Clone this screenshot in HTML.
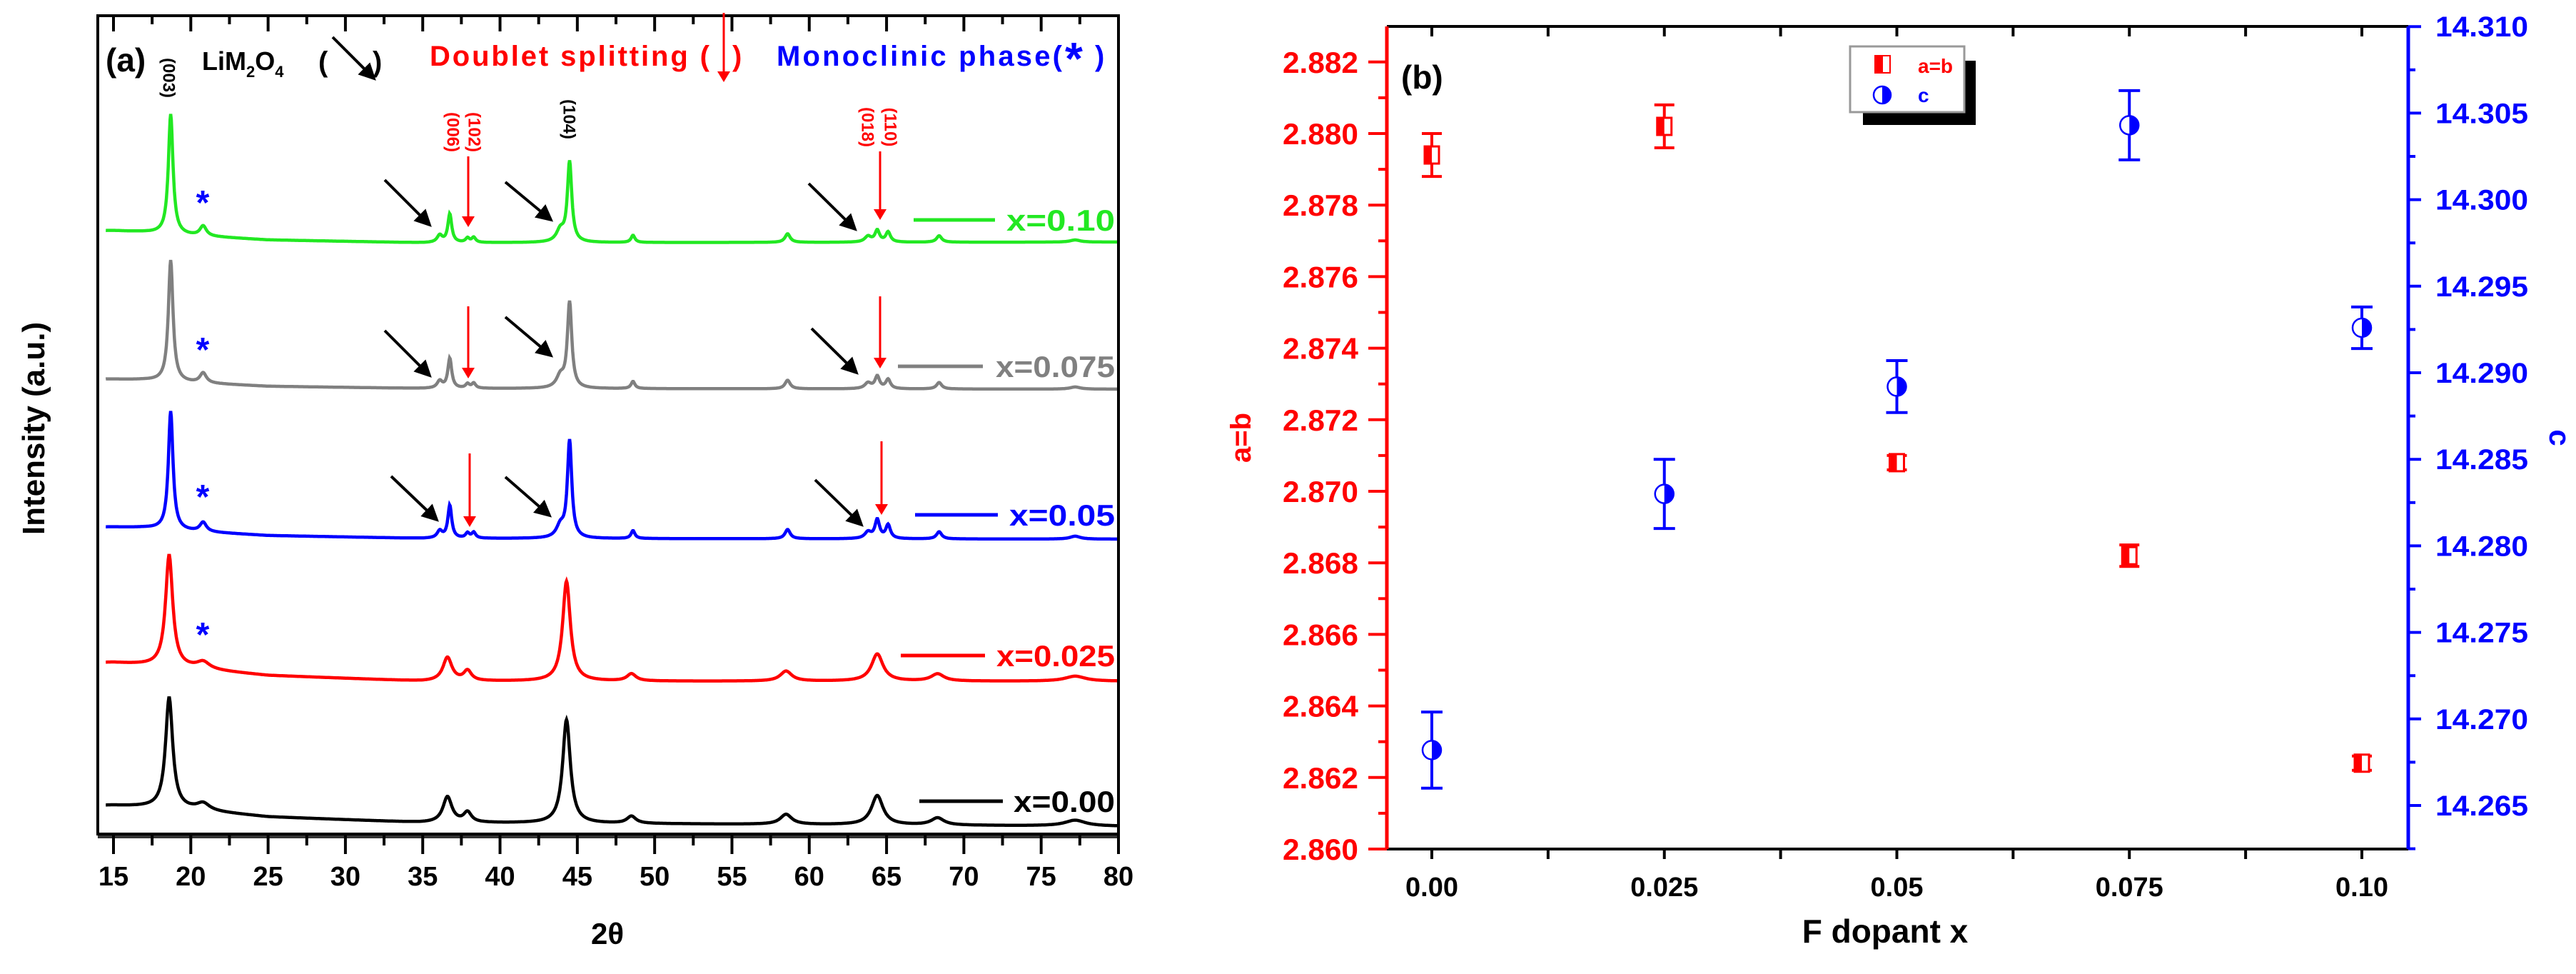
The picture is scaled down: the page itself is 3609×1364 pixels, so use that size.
<!DOCTYPE html>
<html><head><meta charset="utf-8"><style>
html,body{margin:0;padding:0;background:#fff;}
svg{display:block;font-family:"Liberation Sans",sans-serif;font-weight:bold;}
</style></head><body>
<svg id="fig" width="3609" height="1364" viewBox="0 0 3609 1364">
<defs>
<marker id="ahK" markerWidth="6" markerHeight="6" refX="5" refY="3" orient="auto" markerUnits="strokeWidth"><path d="M0,0 L6,3 L0,6 z" fill="#000"/></marker>
<marker id="ahR" markerWidth="5" markerHeight="6" refX="4" refY="3" orient="auto" markerUnits="strokeWidth"><path d="M0,0 L5,3 L0,6 z" fill="#f00"/></marker>
</defs>
<g id="panelA"></g>
<g id="panelB"></g>
</svg>
<script>
// ---------- Panel (a) data ----------
const xrdTickLabels = ["15","20","25","30","35","40","45","50","55","60","65","70","75","80"];
const seriesNames = ["x=0.10","x=0.075","x=0.05","x=0.025","x=0.00"];
const seriesColors = ["#22e822","#808080","#0000ff","#ff0000","#000000"];
const baseKnots = [15,17,20,25,35,80];
const baseG = [845,843,838,832,828,829];
const baseGr = [637,636,632,627,624,623];
const baseB = [430,429,424,418,414,413];
const baseR = [240,237,232,222,214,214];
const baseK = [40,38,34,24,16,11];
const posG = [18.7,20.8,36.1,36.75,37.9,38.3,43.9,44.5,48.6,58.6,63.8,64.4,65.1,68.4,77.2];
const hG   = [168,14,10,40,6,7,16,112,10,12,8,16,14,9,3];
const posGr= [18.7,20.8,36.1,36.75,37.9,38.3,43.9,44.5,48.6,58.6,63.8,64.4,65.1,68.4,77.2];
const hGr  = [170,14,10,42,6,7,16,120,10,12,8,17,13,9,3];
const posB = [18.7,20.8,36.1,36.75,37.9,38.3,43.9,44.5,48.6,58.6,63.8,64.4,65.1,68.4,77.2];
const hB   = [166,13,10,46,7,8,16,136,11,13,9,26,19,10,4];
const widthsSharp = [0.18,0.25,0.2,0.15,0.15,0.15,0.3,0.17,0.15,0.2,0.25,0.18,0.18,0.2,0.4];
const posR = [18.6,20.8,36.6,37.9,44.3,48.5,58.5,64.4,68.3,77.2];
const hR   = [156,10,33,14,140,10,14,38,10,7];
const posK = [18.6,20.8,36.6,37.9,44.3,48.5,58.5,64.4,68.3,77.2];
const hK   = [155,10,36,14,145,10,14,41,10,8];
const widthsBroad = [0.28,0.5,0.35,0.3,0.3,0.35,0.45,0.45,0.5,0.8];

// ---------- Panel (b) data ----------
const dopant = [0,0.025,0.05,0.075,0.10];
const abVals = [2.8794,2.8802,2.8708,2.8682,2.8624];
const abErr  = [0.0006,0.0006,0.0002,0.0003,0.0002];
const cVals  = [14.2682,14.2830,14.2892,14.3043,14.2926];
const cErr   = [0.0022,0.0020,0.0015,0.0020,0.0012];
const xTickVals = [0,0.025,0.05,0.075,0.10];
const xTickLabels = ["0.00","0.025","0.05","0.075","0.10"];
const abTickLabels = ["2.860","2.862","2.864","2.866","2.868","2.870","2.872","2.874","2.876","2.878","2.880","2.882"];
const cTickLabels = ["14.265","14.270","14.275","14.280","14.285","14.290","14.295","14.300","14.305","14.310"];

const NS="http://www.w3.org/2000/svg";
function mk(tag,attrs,parent){const e=document.createElementNS(NS,tag);for(const k in attrs)e.setAttribute(k,attrs[k]);parent.appendChild(e);return e;}
function txt(s,attrs,parent){const e=mk("text",attrs,parent);e.textContent=s;return e;}

// ===== Panel A =====
const A=document.getElementById("panelA");
const ax={L:137,R:1567,T:22,B:1168,x0:15,x1:80};
const X=t=>159+(t-15)*(1567-159)/65;
const Y=v=>1168-v;
function interp(t,kx,ky){for(let i=0;i<kx.length-1;i++){if(t<=kx[i+1]){const f=(t-kx[i])/(kx[i+1]-kx[i]);return ky[i]+f*(ky[i+1]-ky[i]);}}return ky[ky.length-1];}
function spectrum(base,pos,h,w){let d="";for(let t=14.5;t<=80.001;t+=0.04){let v=interp(Math.max(t,15),baseKnots,base);for(let i=0;i<pos.length;i++){const z=(t-pos[i])/w[i];v+=h[i]/(1+z*z);}d+=(d?"L":"M")+X(t).toFixed(1)+","+Y(v).toFixed(1);}return d;}
const specs=[[baseG,posG,hG,widthsSharp],[baseGr,posGr,hGr,widthsSharp],[baseB,posB,hB,widthsSharp],[baseR,posR,hR,widthsBroad],[baseK,posK,hK,widthsBroad]];
const clip=mk("clipPath",{id:"clipA"},A);mk("rect",{x:ax.L,y:ax.T,width:ax.R-ax.L,height:ax.B-ax.T},clip);
specs.forEach((s,i)=>{
  const p=mk("path",{d:spectrum(s[0],s[1],s[2],s[3]),fill:"none",stroke:seriesColors[i],"stroke-width":4.5,"clip-path":"url(#clipA)"},A);
  
  
});
// frame
const fr=mk("rect",{x:ax.L,y:ax.T,width:ax.R-ax.L,height:ax.B-ax.T,fill:"none",stroke:"#000","stroke-width":4},A);


mk("line",{x1:ax.L,y1:ax.B+4,x2:ax.R,y2:ax.B+4,stroke:"#333","stroke-width":4},A);
for(let t=15;t<=80.01;t+=2.5){
  const major=Math.abs(t%5)<0.01;
  mk("line",{x1:X(t),y1:ax.B,x2:X(t),y2:ax.B+(major?28:16),stroke:"#000","stroke-width":4},A);
  mk("line",{x1:X(t),y1:ax.T,x2:X(t),y2:ax.T+(major?22:12),stroke:"#000","stroke-width":4},A);
}
xrdTickLabels.forEach(l=>{
  const e=txt(l,{x:X(+l),y:1240,"text-anchor":"middle","font-size":38},A);
  
  
});
</script>
<script>
(function(){
const A=document.getElementById("panelA");
function mk(tag,attrs,parent){const e=document.createElementNS("http://www.w3.org/2000/svg",tag);for(const k in attrs)e.setAttribute(k,attrs[k]);parent.appendChild(e);return e;}
function txt(s,attrs,parent){const e=mk("text",attrs,parent);e.textContent=s;return e;}
let e;
e=txt("2θ",{x:851,y:1322,"text-anchor":"middle","font-size":42},A);

e=txt("Intensity (a.u.)",{x:0,y:0,"text-anchor":"middle","font-size":44,transform:"translate(62,600) rotate(-90)"},A);

e=txt("(a)",{x:148,y:100,"font-size":46},A);

// header annotations
const h=mk("text",{x:283,y:98,"font-size":36},A);

h.innerHTML='LiM<tspan font-size="22" dy="10">2</tspan><tspan dy="-10">O</tspan><tspan font-size="22" dy="10">4</tspan>';
e=txt("(",{x:446,y:100,"font-size":40},A);

e=txt(")",{x:522,y:100,"font-size":40},A);

mk("line",{x1:466,y1:52,x2:524,y2:110,stroke:"#000","stroke-width":4,"marker-end":"url(#ahK)"},A);
e=txt("Doublet splitting (",{x:602,y:92,"font-size":40,fill:"#ff0000",textLength:392},A);

e=txt(")",{x:1026,y:92,"font-size":40,fill:"#ff0000"},A);

mk("line",{x1:1014,y1:18,x2:1014,y2:112,stroke:"#f00","stroke-width":3,"marker-end":"url(#ahR)"},A);
e=txt("Monoclinic phase(",{x:1088,y:92,"font-size":40,fill:"#0000ff",textLength:400},A);

e=txt("*",{x:1492,y:104,"font-size":64,fill:"#0000ff"},A);

e=txt(")",{x:1534,y:92,"font-size":40,fill:"#0000ff"},A);

// hkl labels
[["(003)",236,109,"#000"],["(104)",797,167,"#000"],["(006)",634,185,"#f00"],["(102)",664,185,"#f00"],["(018)",1215,178,"#f00"],["(110)",1247,178,"#f00"]].forEach(l=>{
  const t=txt(l[0],{x:0,y:0,"text-anchor":"middle","dominant-baseline":"central","font-size":24,fill:l[3],transform:`translate(${l[1]},${l[2]}) rotate(90)`},A);
  
});
// black arrows
[[539,252,602,315],[708,255,772,308],[1133,257,1198,321],[539,463,602,526],[708,444,772,498],[1137,460,1200,522],[548,667,612,728],[708,668,770,722],[1142,672,1207,735]].forEach(a=>{
  const l=mk("line",{x1:a[0],y1:a[1],x2:a[2],y2:a[3],stroke:"#000","stroke-width":4,"marker-end":"url(#ahK)"},A);
  
});
// red arrows
[[656,219,315],[1233,212,305],[656,429,527],[1233,415,513],[658,635,735],[1235,618,718]].forEach(a=>{
  const l=mk("line",{x1:a[0],y1:a[1],x2:a[0],y2:a[2],stroke:"#f00","stroke-width":3,"marker-end":"url(#ahR)"},A);
  
});
// stars
[[284,300],[284,506],[284,712],[284,905]].forEach(s=>{
  const t=txt("*",{x:s[0],y:s[1],"text-anchor":"middle","font-size":48,fill:"#0000ff"},A);
  
});
// legend entries
const names=["x=0.10","x=0.075","x=0.05","x=0.025","x=0.00"];
const cols=["#22e822","#808080","#0000ff","#ff0000","#000000"];
const leg=[[1280,1394,308,1410],[1258,1377,513,1395],[1282,1398,721,1414],[1262,1380,918,1396],[1288,1405,1122,1420]];
leg.forEach((g,i)=>{
  const l=mk("line",{x1:g[0],y1:g[2],x2:g[1],y2:g[2],stroke:cols[i],"stroke-width":5},A);
  
  const t=txt(names[i],{x:g[3],y:g[2]+15,"font-size":42,fill:cols[i],textLength:1562-g[3],lengthAdjust:"spacingAndGlyphs"},A);
  
});
})();
</script>
<script>
// ===== Panel B =====
(function(){
const B=document.getElementById("panelB");
function mk(tag,attrs,parent){const e=document.createElementNS("http://www.w3.org/2000/svg",tag);for(const k in attrs)e.setAttribute(k,attrs[k]);parent.appendChild(e);return e;}
function txt(s,attrs,parent){const e=mk("text",attrs,parent);e.textContent=s;return e;}
const L=1943,R=3374,T=37,Bt=1189;
const X=v=>2006+v*(3309-2006)/0.1;
const YA=v=>1189-(v-2.860)/0.002*100.2;
const YC=v=>1128-(v-14.265)/0.005*121.2;
let e;
mk("line",{x1:L,y1:T,x2:R,y2:T,stroke:"#000","stroke-width":4},B);
mk("line",{x1:L,y1:Bt,x2:R,y2:Bt,stroke:"#000","stroke-width":4},B);
e=mk("line",{x1:L,y1:T,x2:L,y2:Bt,stroke:"#f00","stroke-width":5},B);

e=mk("line",{x1:R,y1:T,x2:R,y2:Bt,stroke:"#00f","stroke-width":5},B);

for(let k=0;k<=8;k++){const v=k*0.0125;const x=X(v);
  mk("line",{x1:x,y1:Bt,x2:x,y2:Bt+14,stroke:"#000","stroke-width":4},B);
  mk("line",{x1:x,y1:T,x2:x,y2:T+14,stroke:"#000","stroke-width":4},B);}
xTickVals.forEach((v,i)=>{e=txt(xTickLabels[i],{x:X(v),y:1255,"text-anchor":"middle","font-size":38},B);
  });
e=txt("F dopant x",{x:2641,y:1320,"text-anchor":"middle","font-size":46},B);

for(let k=0;k<=22;k++){const v=2.860+k*0.001;const y=YA(v);if(y<T-1)continue;
  mk("line",{x1:L,y1:y,x2:L-(k%2===0?26:12),y2:y,stroke:"#f00","stroke-width":4},B);}
abTickLabels.forEach(l=>{e=txt(l,{x:1903,y:YA(+l)+15,"text-anchor":"end","font-size":42,fill:"#f00",textLength:106,lengthAdjust:"spacingAndGlyphs"},B);
  });
e=txt("a=b",{x:0,y:0,"text-anchor":"middle","font-size":40,fill:"#f00",transform:"translate(1752,613) rotate(-90)"},B);

for(let k=0;k<=19;k++){const v=14.2625+k*0.0025;const y=YC(v);if(y<T-1)continue;
  mk("line",{x1:R,y1:y,x2:R+(k%2===1?18:10),y2:y,stroke:"#00f","stroke-width":4},B);}
cTickLabels.forEach(l=>{e=txt(l,{x:3412,y:YC(+l)+14,"font-size":40,fill:"#00f",textLength:130,lengthAdjust:"spacingAndGlyphs"},B);
  });
e=txt("c",{x:0,y:0,"text-anchor":"middle","font-size":42,fill:"#00f",transform:"translate(3572,613) rotate(90)"},B);

e=txt("(b)",{x:1963,y:124,"font-size":46},B);

dopant.forEach((d,i)=>{const x=X(d),y=YA(abVals[i]),y1=YA(abVals[i]+abErr[i]),y2=YA(abVals[i]-abErr[i]);
  const g=mk("g",{},B);
  
  mk("line",{x1:x,y1:y1,x2:x,y2:y2,stroke:"#f00","stroke-width":4},g);
  mk("line",{x1:x-14,y1:y1,x2:x+14,y2:y1,stroke:"#f00","stroke-width":4},g);
  mk("line",{x1:x-14,y1:y2,x2:x+14,y2:y2,stroke:"#f00","stroke-width":4},g);
  mk("rect",{x:x-10,y:y-12,width:20,height:24,fill:"#fff",stroke:"#f00","stroke-width":3},g);
  mk("rect",{x:x-10,y:y-12,width:10,height:24,fill:"#f00"},g);
});
dopant.forEach((d,i)=>{const x=X(d),y=YC(cVals[i]),y1=YC(cVals[i]+cErr[i]),y2=YC(cVals[i]-cErr[i]);
  const g=mk("g",{},B);
  
  mk("line",{x1:x,y1:y1,x2:x,y2:y2,stroke:"#00f","stroke-width":4},g);
  mk("line",{x1:x-15,y1:y1,x2:x+15,y2:y1,stroke:"#00f","stroke-width":4},g);
  mk("line",{x1:x-15,y1:y2,x2:x+15,y2:y2,stroke:"#00f","stroke-width":4},g);
  mk("circle",{cx:x,cy:y,r:13,fill:"#fff",stroke:"#00f","stroke-width":2.5},g);
  mk("path",{d:`M${x},${y-13} A13,13 0 0 1 ${x},${y+13} Z`,fill:"#00f"},g);
});
const lg=mk("g",{},B);

mk("rect",{x:2610,y:85,width:158,height:90,fill:"#000"},lg);
mk("rect",{x:2592,y:65,width:160,height:92,fill:"#fff",stroke:"#999","stroke-width":3},lg);
mk("rect",{x:2627,y:78,width:21,height:24,fill:"#fff",stroke:"#f00","stroke-width":2},lg);
mk("rect",{x:2627,y:78,width:11,height:24,fill:"#f00"},lg);
e=txt("a=b",{x:2687,y:102,"font-size":28,fill:"#f00"},lg);

mk("circle",{cx:2637,cy:133,r:12,fill:"#fff",stroke:"#00f","stroke-width":2.5},lg);
mk("path",{d:"M2637,121 A12,12 0 0 1 2637,145 Z",fill:"#00f"},lg);
e=txt("c",{x:2687,y:143,"font-size":28,fill:"#00f"},lg);

})();
</script>
</body></html>
